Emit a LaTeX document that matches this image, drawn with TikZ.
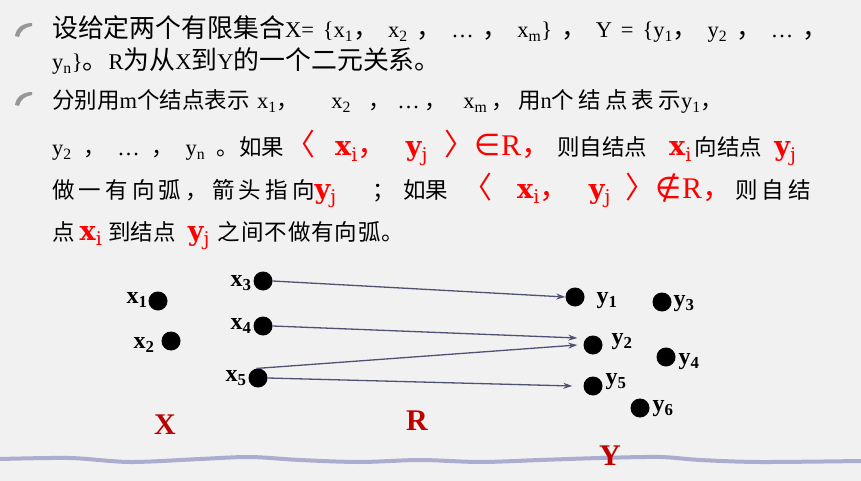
\documentclass[tikz,border=0pt]{standalone}
\usepackage{fontspec}
\setmainfont{Liberation Serif}[WordSpace=1.6]
\newfontfamily\cjk{Noto Sans CJK SC}
\newfontfamily\cjkbig[Scale=1.15]{Noto Sans CJK SC}
\newfontfamily\cjkwide[LetterSpace=18.5]{Noto Sans CJK SC}
\newfontfamily\cjkmid[LetterSpace=4]{Noto Sans CJK SC}
\newfontfamily\slab{DejaVu Serif}
\newfontfamily\symf{DejaVu Sans}
\usetikzlibrary{positioning,arrows.meta}

\definecolor{paper}{RGB}{241,241,241}
\definecolor{linkblue}{RGB}{80,82,115}
\definecolor{setred}{RGB}{190,0,0}
\definecolor{wave}{RGB}{170,172,208}
\definecolor{tick}{RGB}{150,150,150}

\newcommand{\zh}[1]{{\cjk #1}}
\newcommand{\zhb}[1]{{\cjkbig #1}}
\newcommand{\zhw}[1]{{\cjkwide #1}}
\newcommand{\zhm}[1]{{\cjkmid #1}}
\newcommand{\rsub}[2]{{\color{red}\fontsize{27}{27}\selectfont\slab\bfseries #1\textsubscript{\mdseries #2}}}
\newcommand{\rtxt}[1]{{\color{red}\fontsize{30}{30}\selectfont #1}}

\tikzset{
  dot/.style={circle, fill=black, inner sep=0pt, minimum size=19pt},
  lab/.style={font=\fontsize{24}{24}\selectfont\bfseries, inner sep=0pt},
  setname/.style={font=\fontsize{30}{30}\selectfont\bfseries, text=setred, inner sep=0pt},
  link/.style={-{Stealth[length=9pt,width=6pt]}, linkblue, line width=1.3pt},
  para/.style={anchor=base west, inner sep=0pt, font=\fontsize{22.5}{27}\selectfont}
}

\begin{document}
\begin{tikzpicture}[x=1pt,y=-1pt]
  % Background
  \fill[paper] (0,0) rectangle (861,481);
  \useasboundingbox (0,0) rectangle (861,481);

  % Bullets
  \foreach \b in {29,98} {
    \fill[tick] (15,\b+7) .. controls (16,\b-1) and (23,\b-6) .. (32,\b-6) -- (32,\b-3) .. controls (25,\b-2) and (20,\b+2) .. (19,\b+8) -- cycle;
  }

  % First item
  \node[para] (l1) at (52,38) {\makebox[776pt][s]{\zhb{设给定两个有限集合}X= \{x\textsubscript{1}\zhb{，} x\textsubscript{2} \zhb{，} … \zhb{，} x\textsubscript{m}\} \zhb{，} Y = \{y\textsubscript{1}\zhb{，} y\textsubscript{2} \zhb{，} … \zhb{，}}};
  \node[para] (l2) at (52,70) {\makebox[386pt][s]{y\textsubscript{n}\}\zhb{。}R\zhb{为从}X\zhb{到}Y\zhb{的一个二元关系。}}};

  % Second item, line by line
  \node[para] (l3a) at (52,109) {\zh{分别用}m\zh{个结点表示}};
  \node[para] (l3b) at (257,109) {x\textsubscript{1}\zh{，}\hspace{32pt}x\textsubscript{2}\hspace{18pt}\zh{，}\hspace{6pt}…\hspace{5pt}\zh{，}\hspace{16pt}x\textsubscript{m}\hspace{4pt}\zh{，}};
  \node[para] (l3c) at (518,109) {\zhw{用}n\zhw{个结点表示}y\textsubscript{1}\zh{，}};

  \node[para] (l4a) at (52,156) {\makebox[232pt][s]{y\textsubscript{2} \zh{，} … \zh{，} y\textsubscript{n} \zh{。如果}}};
  \node[para] (l4b) at (285,156) {\rtxt{\zh{〈}\hspace{20pt}\rsub{x}{i}\zh{，}\hspace{18pt}\rsub{y}{j}\hspace{17pt}\zh{〉}{\symf ∈}R\zh{，}}};
  \node[para] (l4c) at (557,156) {\zh{则自结点}\hspace{22pt}\rsub{x}{i}\hspace{3pt}\zh{向结点}\hspace{12pt}\rsub{y}{j}};

  \node[para] (l5a) at (52,198) {\zhw{做一有向弧，箭头指向}\rsub{y}{j}\hspace{36pt}\zh{；}\hspace{8pt}\zh{如果}};
  \node[para] (l5b) at (462,198) {\rtxt{\zh{〈}\hspace{25pt}\rsub{x}{i}\zh{，}\hspace{19pt}\rsub{y}{j}\hspace{15pt}\zh{〉}{\symf ∉}R\zh{，}}};
  \node[para] (l5c) at (735,198) {\zhw{则自结}};

  \node[para] (l6) at (52,240) {\zh{点}\hspace{5pt}\rsub{x}{i}\hspace{6pt}\zh{到结点}\hspace{12pt}\rsub{y}{j}\hspace{8pt}\zhm{之间不做有向弧。}};

  % Bottom line
  \draw[wave, line width=4pt] plot[smooth] coordinates {(0,459) (70,458) (130,462) (200,459) (250,457) (300,460) (360,462) (420,460) (480,462) (540,460) (600,458) (660,457) (700,460) (760,462) (861,461)};

  % Set X
  \foreach \n/\x/\y/\lx/\ly in {1/158/301/137/300, 2/171/341/144/345, 3/263/281/241/283, 4/263/326/241/326, 5/258/378/236/378} {
    \node[dot] (x\n) at (\x,\y) {};
    \node[lab] (lx\n) at (\lx,\ly) {x\textsubscript{\n}};
  }

  % Set Y
  \foreach \n/\x/\y/\lx/\ly in {1/575/297/607/301, 2/593/345/622/342, 3/662/302/684/304, 4/666/357/689/362, 5/593/386/616/382, 6/640/408/663/409} {
    \node[dot] (y\n) at (\x,\y) {};
    \node[lab] (ly\n) at (\lx,\ly) {y\textsubscript{\n}};
  }

  % Relation R
  \draw[link] (x3.east) -- (y1.west);
  \draw[link] (x4.east) -- ([xshift=-6pt,yshift=7pt]y2.west);
  \draw[link] (x5.100) -- ([xshift=-6pt]y2.west);
  \draw[link] (x5.east) -- ([xshift=-11pt]y5.west);

  \node[setname] (X) at (165,425) {X};
  \node[setname] (R) at (417,421) {R};
  \node[setname] (Y) at (610,456) {Y};
\end{tikzpicture}
\end{document}
